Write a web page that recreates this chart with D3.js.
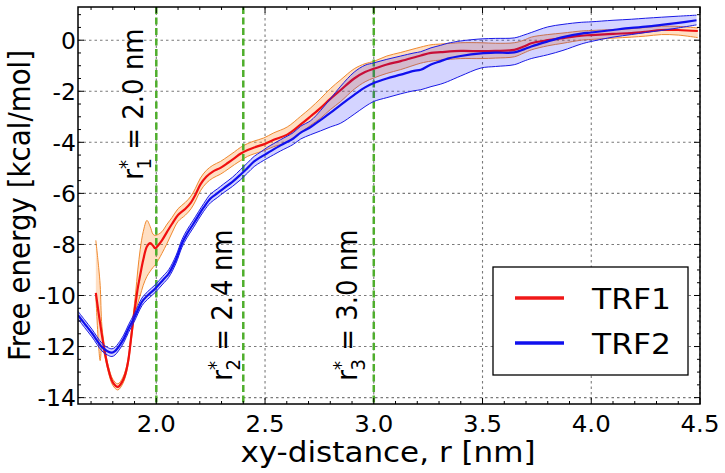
<!DOCTYPE html>
<html><head><meta charset="utf-8">
<script src="https://cdn.jsdelivr.net/npm/d3@7"></script>
<style>
html,body{margin:0;padding:0;background:#fff;}
text{font-family:"DejaVu Sans",sans-serif;fill:#000;}
</style></head>
<body><svg id="c" width="725" height="473"></svg>
<script>
// ---------- DATA ----------
const r1 = [1.722,1.735,1.742,1.750,1.765,1.780,1.800,1.823,1.845,1.860,1.872,1.885,1.895,1.905,1.915,1.926,1.940,1.957,1.972,1.985,1.995,2.010,2.026,2.050,2.072,2.100,2.134,2.160,2.180,2.203,2.230,2.260,2.295,2.330,2.360,2.387,2.420,2.450,2.494,2.540,2.602,2.664,2.710,2.756,2.800,2.848,2.910,2.960,3.000,3.060,3.124,3.216,3.263,3.308,3.400,3.493,3.560,3.646,3.690,3.724,3.800,3.870,3.954,4.000,4.100,4.184,4.250,4.323,4.400,4.490];
const trf1 = [-9.90,-10.70,-11.10,-11.55,-12.30,-12.90,-13.40,-13.58,-13.35,-13.00,-12.50,-11.60,-10.90,-10.30,-9.70,-9.20,-8.60,-8.08,-7.95,-8.05,-8.15,-8.02,-7.84,-7.50,-7.20,-6.85,-6.60,-6.35,-6.05,-5.65,-5.35,-5.15,-5.00,-4.80,-4.62,-4.45,-4.30,-4.20,-4.08,-3.90,-3.70,-3.30,-2.98,-2.65,-2.30,-1.95,-1.50,-1.25,-1.12,-0.95,-0.82,-0.60,-0.50,-0.47,-0.42,-0.43,-0.42,-0.38,-0.25,-0.12,0.00,0.08,0.18,0.20,0.25,0.28,0.33,0.40,0.40,0.36];
const trf1Lo = [-10.00,-12.00,-12.55,-12.00,-12.45,-13.02,-13.52,-13.70,-13.47,-13.12,-12.62,-11.75,-11.10,-10.60,-10.30,-10.00,-9.60,-9.25,-9.05,-8.90,-8.80,-8.60,-8.35,-7.95,-7.55,-7.10,-6.85,-6.60,-6.30,-5.90,-5.60,-5.40,-5.25,-5.05,-4.87,-4.72,-4.55,-4.45,-4.33,-4.17,-4.00,-3.62,-3.33,-3.05,-2.72,-2.40,-1.92,-1.63,-1.48,-1.30,-1.15,-0.90,-0.82,-0.78,-0.72,-0.72,-0.70,-0.65,-0.50,-0.38,-0.22,-0.12,0.00,0.03,0.08,0.12,0.16,0.22,0.20,0.10];
const trf1Hi = [-7.84,-8.90,-9.60,-11.20,-12.15,-12.78,-13.28,-13.46,-13.23,-12.88,-12.38,-11.45,-10.70,-9.90,-9.00,-8.20,-7.50,-7.06,-7.30,-7.60,-7.65,-7.60,-7.50,-7.20,-6.95,-6.60,-6.35,-6.10,-5.80,-5.40,-5.10,-4.90,-4.75,-4.55,-4.37,-4.20,-4.05,-3.95,-3.83,-3.63,-3.40,-2.98,-2.65,-2.28,-1.90,-1.55,-1.12,-0.92,-0.83,-0.62,-0.48,-0.27,-0.18,-0.15,-0.10,-0.10,-0.12,-0.10,0.00,0.12,0.22,0.28,0.36,0.38,0.42,0.45,0.50,0.55,0.54,0.48];

const r2 = [1.640,1.670,1.704,1.750,1.775,1.796,1.810,1.826,1.850,1.872,1.900,1.934,1.960,1.995,2.030,2.057,2.090,2.118,2.140,2.170,2.218,2.249,2.280,2.310,2.350,2.387,2.420,2.450,2.480,2.510,2.571,2.630,2.664,2.710,2.756,2.800,2.848,2.910,2.960,3.000,3.060,3.124,3.185,3.216,3.263,3.308,3.340,3.400,3.493,3.560,3.646,3.690,3.724,3.800,3.870,3.954,4.000,4.100,4.184,4.250,4.323,4.400,4.484];
const trf2 = [-10.77,-11.10,-11.47,-12.02,-12.18,-12.24,-12.18,-12.02,-11.70,-11.30,-10.85,-10.25,-10.00,-9.73,-9.40,-9.14,-8.60,-7.96,-7.60,-7.20,-6.55,-6.20,-6.00,-5.80,-5.55,-5.27,-5.00,-4.75,-4.58,-4.43,-4.12,-3.85,-3.62,-3.40,-3.12,-2.85,-2.53,-2.14,-1.85,-1.68,-1.50,-1.35,-1.20,-1.16,-0.95,-0.82,-0.72,-0.62,-0.52,-0.49,-0.48,-0.36,-0.25,-0.05,0.12,0.26,0.30,0.40,0.48,0.53,0.60,0.68,0.78];
const trf2Lo = [-10.92,-11.25,-11.62,-12.17,-12.33,-12.39,-12.33,-12.17,-11.85,-11.45,-11.00,-10.40,-10.15,-9.88,-9.55,-9.29,-8.75,-8.11,-7.75,-7.35,-6.70,-6.37,-6.17,-5.97,-5.73,-5.47,-5.20,-4.95,-4.78,-4.63,-4.34,-4.08,-3.87,-3.70,-3.55,-3.40,-3.25,-2.90,-2.60,-2.40,-2.25,-2.10,-1.98,-1.94,-1.82,-1.72,-1.62,-1.40,-1.09,-1.03,-0.96,-0.82,-0.72,-0.57,-0.40,-0.15,-0.05,0.12,0.22,0.30,0.38,0.48,0.60];
const trf2Hi = [-10.62,-10.95,-11.32,-11.87,-12.03,-12.09,-12.03,-11.87,-11.55,-11.15,-10.70,-10.10,-9.85,-9.58,-9.25,-8.99,-8.45,-7.81,-7.45,-7.05,-6.40,-6.03,-5.83,-5.63,-5.37,-5.07,-4.80,-4.55,-4.38,-4.20,-3.90,-3.62,-3.37,-3.15,-2.75,-2.30,-1.80,-1.25,-0.98,-0.89,-0.75,-0.62,-0.50,-0.45,-0.30,-0.20,-0.12,-0.03,0.05,0.07,0.09,0.20,0.30,0.52,0.62,0.70,0.72,0.78,0.82,0.86,0.90,0.94,0.98];

const cutoffs = [2.0, 2.4, 3.0];
const cutoffLabels = [["1","2.0"],["2","2.4"],["3","3.0"]];
const xTicks = [2.0, 2.5, 3.0, 3.5, 4.0, 4.5];
const yTicks = [0, -2, -4, -6, -8, -10, -12, -14];
const seriesNames = ["TRF1", "TRF2"];

// ---------- LAYOUT ----------
const SX = 1.12; // horizontal glyph stretch for titles
const L = 78, R = 700, T = 7, B = 404;
const svg = d3.select("#c");
const x = d3.scaleLinear().domain([1.64, 4.5]).range([L, R]);
const y = d3.scaleLinear().domain([-14.25, 1.3]).range([B, T]);

svg.append("defs").append("clipPath").attr("id","clip")
  .append("rect").attr("x",L).attr("y",T).attr("width",R-L).attr("height",B-T);

// grid
const grid = svg.append("g");
xTicks.forEach(v => grid.append("line").attr("x1",x(v)).attr("x2",x(v)).attr("y1",T).attr("y2",B)
  .attr("stroke","#7a7a7a").attr("stroke-width",1.1).attr("stroke-dasharray","2.5,3"));
yTicks.forEach(v => grid.append("line").attr("y1",y(v)).attr("y2",y(v)).attr("x1",L).attr("x2",R)
  .attr("stroke","#7a7a7a").attr("stroke-width",1.1).attr("stroke-dasharray","2.5,3"));

const plot = svg.append("g").attr("clip-path","url(#clip)");
const curve = d3.curveCatmullRom.alpha(0.5);
function band(rs, lo, hi){
  return d3.area().x((d,i)=>x(rs[i])).y0((d,i)=>y(lo[i])).y1((d,i)=>y(hi[i])).curve(curve)(rs);
}
function line(rs, vs){
  return d3.line().x((d,i)=>x(rs[i])).y((d,i)=>y(vs[i])).curve(curve)(rs);
}
// TRF1 band
plot.append("path").attr("d",band(r1,trf1Lo,trf1Hi)).attr("fill","#ff7f0e").attr("fill-opacity",0.25);
plot.append("path").attr("d",line(r1,trf1Lo)).attr("fill","none").attr("stroke","#f08a30").attr("stroke-width",1);
plot.append("path").attr("d",line(r1,trf1Hi)).attr("fill","none").attr("stroke","#f08a30").attr("stroke-width",1);
// cutoffs
cutoffs.forEach(v => plot.append("line").attr("x1",x(v)).attr("x2",x(v)).attr("y1",T).attr("y2",B)
  .attr("stroke","#4fae2c").attr("stroke-width",2.5).attr("stroke-dasharray","7,3.5"));
plot.append("path").attr("d",line(r1,trf1)).attr("fill","none").attr("stroke","#f01010").attr("stroke-width",2.2);
// TRF2 band
plot.append("path").attr("d",band(r2,trf2Lo,trf2Hi)).attr("fill","#0000ff").attr("fill-opacity",0.17);
plot.append("path").attr("d",line(r2,trf2Lo)).attr("fill","none").attr("stroke","#1a1ae6").attr("stroke-width",1);
plot.append("path").attr("d",line(r2,trf2Hi)).attr("fill","none").attr("stroke","#1a1ae6").attr("stroke-width",1);
plot.append("path").attr("d",line(r2,trf2)).attr("fill","none").attr("stroke","#1010ee").attr("stroke-width",2.2);

// frame
svg.append("rect").attr("x",L).attr("y",T).attr("width",R-L).attr("height",B-T)
  .attr("fill","none").attr("stroke","#000").attr("stroke-width",1.5);

// ticks (inward, all sides)
const tk = svg.append("g").attr("stroke","#000").attr("stroke-width",1);
const xMinor = d3.range(17, 46).map(v => v/10).filter(v => v >= 1.64 && v <= 4.5);
const yMinor = d3.range(-28, 3).map(v => v/2);
xMinor.forEach(v => { const maj = xTicks.some(t=>Math.abs(t-v)<1e-6); const len = maj?6:3;
  tk.append("line").attr("x1",x(v)).attr("x2",x(v)).attr("y1",B).attr("y2",B-len);
  tk.append("line").attr("x1",x(v)).attr("x2",x(v)).attr("y1",T).attr("y2",T+len); });
yMinor.forEach(v => { if (y(v) < T || y(v) > B) return; const maj = yTicks.includes(v); const len = maj?6:3;
  tk.append("line").attr("y1",y(v)).attr("y2",y(v)).attr("x1",L).attr("x2",L+len);
  tk.append("line").attr("y1",y(v)).attr("y2",y(v)).attr("x1",R).attr("x2",R-len); });

// text helper
function stext(g, px, py, str, size, anchor, rot, sx){
  const s = sx === undefined ? SX : sx;
  return g.append("text").attr("transform",`translate(${px},${py}) scale(${s},1)` + (rot?` rotate(${rot})`:""))
    .attr("font-size",size).attr("text-anchor",anchor).text(str);
}
xTicks.forEach(v => stext(svg, x(v), 432, v.toFixed(1), 23.5, "middle", 0, 1.04));
yTicks.forEach(v => stext(svg, 76, y(v)+8.5, String(v), 23.5, "end", 0, 1.0));

// axis titles
stext(svg, 388, 462, "xy-distance, r [nm]", 27.7, "middle");
stext(svg, 30, 205.5, "Free energy [kcal/mol]", 27.7, "middle", -90);

// cutoff annotations
const annPos = [[143,104],[232,305],[357,305]];
cutoffs.forEach((v,i) => {
  const t = svg.append("text").attr("transform",`translate(${annPos[i][0]},${annPos[i][1]}) scale(${SX},1) rotate(-90)`)
    .attr("font-size",26).attr("text-anchor","middle");
  t.append("tspan").text("r");
  t.append("tspan").attr("font-size",18).attr("dy",-9).text("*");
  t.append("tspan").attr("font-size",18).attr("dx",-9.5).attr("dy",16).text(cutoffLabels[i][0]);
  t.append("tspan").attr("dy",-7).text(" = " + cutoffLabels[i][1] + " nm");
});

// legend
const lg = svg.append("g");
lg.append("rect").attr("x",493).attr("y",267).attr("width",195).attr("height",108)
  .attr("fill","#fff").attr("stroke","#000").attr("stroke-width",1.3);
const lcol = ["#f01818","#1010ee"];
seriesNames.forEach((n,i) => {
  const yy = 298 + i*45;
  lg.append("line").attr("x1",515).attr("x2",564).attr("y1",yy).attr("y2",yy).attr("stroke",lcol[i]).attr("stroke-width",3.5);
  stext(lg, 592, yy+11, n, 28, "start");
});
</script></body></html>
